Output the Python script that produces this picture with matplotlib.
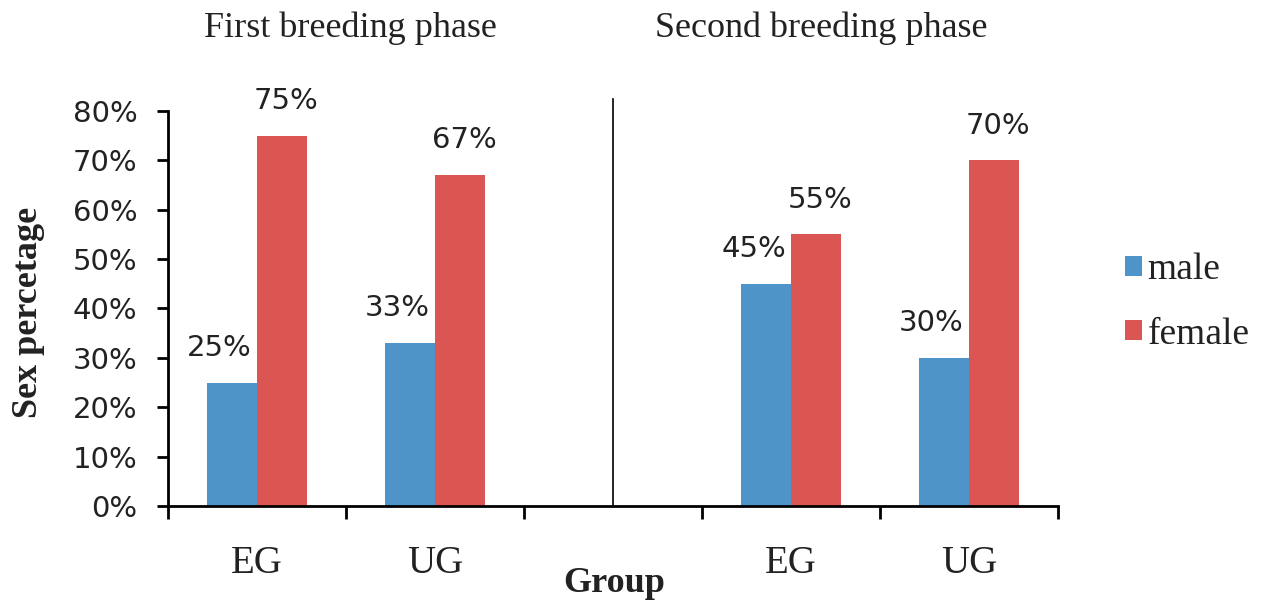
import numpy as np
import matplotlib
matplotlib.use("Agg")
import matplotlib.pyplot as plt

# data
groups = ["EG", "UG", "", "EG", "UG"]
male = [0.25, 0.33, np.nan, 0.45, 0.30]
female = [0.75, 0.67, np.nan, 0.55, 0.70]
phase_titles = ["First breeding phase", "Second breeding phase"]

BLUE = "#4f94c9"
RED = "#db5652"
SERIF = "Liberation Serif"
SANS = "DejaVu Sans"
TXT = "#222222"

fig = plt.figure(figsize=(12.66, 6.04), dpi=100)
ax = fig.add_axes([0.1327, 0.1623, 0.703, 0.654])

x = np.arange(len(groups))
w = 0.28
b1 = ax.bar(x - w / 2, male, width=w, color=BLUE, label="male")
b2 = ax.bar(x + w / 2, female, width=w, color=RED, label="female")

# value labels
for xi, v in zip(x, male):
    if not np.isnan(v):
        ax.annotate(f"{v * 100:.0f}%", (xi - w / 2, v), xytext=(-9, 25),
                    textcoords="offset points", ha="center", va="center",
                    fontsize=21, family=SANS, color=TXT)
for xi, v in zip(x, female):
    if not np.isnan(v):
        ax.annotate(f"{v * 100:.0f}%", (xi + w / 2, v), xytext=(3, 25),
                    textcoords="offset points", ha="center", va="center",
                    fontsize=21, family=SANS, color=TXT)

# separator between phases
ax.axvline(2, ymin=0, ymax=1.03, color="black", lw=1.2, clip_on=False)

ax.set_xlim(-0.5, len(groups) - 0.5)
ax.set_ylim(0, 0.8)
yt = np.arange(0, 0.81, 0.1)
ax.set_yticks(yt)
ax.set_yticklabels([f"{t * 100:.0f}%" for t in yt], family=SANS, fontsize=21, color=TXT)

ax.set_xticks(np.arange(-0.5, len(groups), 1.0))
ax.set_xticklabels([])
ax.set_xticks(x, minor=True)
ax.set_xticklabels(groups, minor=True, family=SERIF, fontsize=28, color=TXT)
ax.tick_params(axis="x", which="minor", length=0, pad=28)
ax.tick_params(axis="x", which="major", direction="out", length=9, width=2)
ax.tick_params(axis="y", direction="out", length=8, width=2, pad=14)

for s in ["top", "right"]:
    ax.spines[s].set_visible(False)
ax.spines["left"].set_linewidth(2)
ax.spines["bottom"].set_linewidth(2)

fig.text(29 / 1266, 1 - 312 / 604, "Sex percetage", rotation=90, ha="center", va="center",
         family=SERIF, fontsize=26, fontweight="bold", color=TXT)
fig.text(614 / 1266, 1 - 583 / 604, "Group", ha="center", va="center",
         family=SERIF, fontsize=26, fontweight="bold", color=TXT)

fig.text(350 / 1266, 1 - 28 / 604, phase_titles[0], ha="center", va="center",
         family=SERIF, fontsize=26, color=TXT)
fig.text(821 / 1266, 1 - 28 / 604, phase_titles[1], ha="center", va="center",
         family=SERIF, fontsize=26, color=TXT)

fig.legend(handles=[b1, b2], loc="center left", bbox_to_anchor=(1125 / 1266, 1 - 302 / 604),
           frameon=False, prop={"family": SERIF, "size": 27}, handlelength=0.45,
           handleheight=0.45, handletextpad=0.15, labelspacing=0.8,
           borderpad=0, borderaxespad=0, labelcolor=TXT)

fig.savefig("out.png", dpi=100, facecolor="white")
